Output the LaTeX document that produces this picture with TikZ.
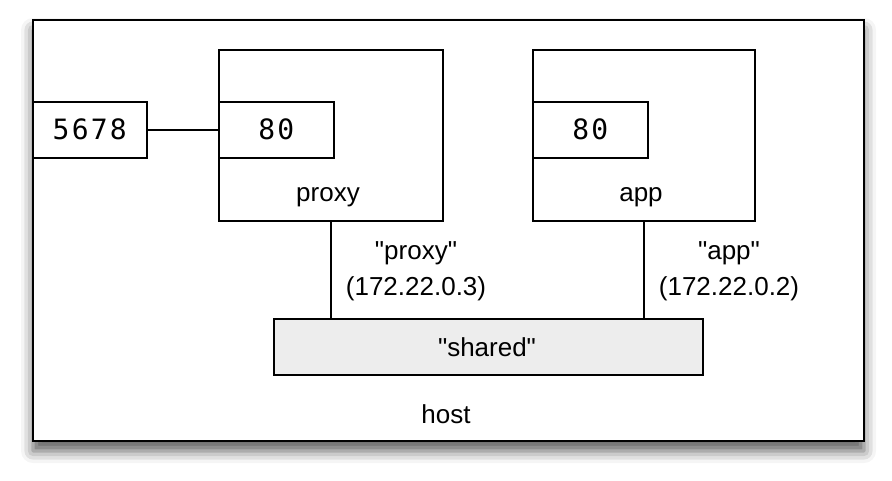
\documentclass[tikz,border=0pt]{standalone}
\usepackage{fontspec}
\setmainfont{Liberation Sans}
\newfontfamily\portfont{DejaVu Sans Mono}[LetterSpace=8]
\usetikzlibrary{shadows.blur}
\newcommand{\dq}{\textquotedbl}
\begin{document}
\begin{tikzpicture}[x=1pt,y=-1pt,
  box/.style={draw, line width=1.6pt, fill=white, inner sep=0pt, anchor=north west},
  portbox/.style={box},
  porttext/.style={font=\portfont\fontsize{28}{30}\selectfont},
  lbl/.style={font=\fontsize{26}{35}\selectfont, inner sep=0pt, anchor=base},
  wire/.style={line width=1.6pt}]
\useasboundingbox (0,0) rectangle (892,481);
\node[box, line width=2pt, minimum width=831pt, minimum height=421pt,
  blur shadow={shadow xshift=0pt, shadow yshift=-10pt, shadow blur radius=12pt, shadow opacity=65}] (host) at (32,19) {};
\node[box, minimum width=224pt, minimum height=171pt] (proxy) at (218,49) {};
\node[box, minimum width=222pt, minimum height=171pt] (app) at (532,49) {};
\node[portbox, minimum width=115pt, minimum height=56pt] (p80) at (218,101) {};
\node[portbox, minimum width=115pt, minimum height=56pt] (a80) at (532,101) {};
\node[portbox, minimum width=114pt, minimum height=56pt] (p5678) at (32,101) {};
\node[porttext] (p80t) at (p80.center) {80};
\node[porttext] (a80t) at (a80.center) {80};
\node[porttext] (p5678t) at (p5678.center) {5678};
\node[lbl] (proxylbl) at (328,202) {proxy};
\node[lbl] (applbl) at (641,202) {app};
\node[box, fill=black!7, minimum width=429pt, minimum height=56pt] (shared) at (273,318) {};
\node[lbl] (sharedlbl) at (487,356) {\dq shared\dq};
\node[lbl] (hostlbl) at (446,423) {host};
\node[lbl] (proxyname) at (416,260) {\dq proxy\dq};
\node[lbl] (proxyip) at (416,295) {(172.22.0.3)};
\node[lbl] (appname) at (729,260) {\dq app\dq};
\node[lbl] (appip) at (729,295) {(172.22.0.2)};
\draw[wire] (p5678.east) -- (p80.west);
\draw[wire] (proxy.south) -- (proxy.south |- shared.north);
\draw[wire] (app.south) -- (app.south |- shared.north);
\end{tikzpicture}
\end{document}
